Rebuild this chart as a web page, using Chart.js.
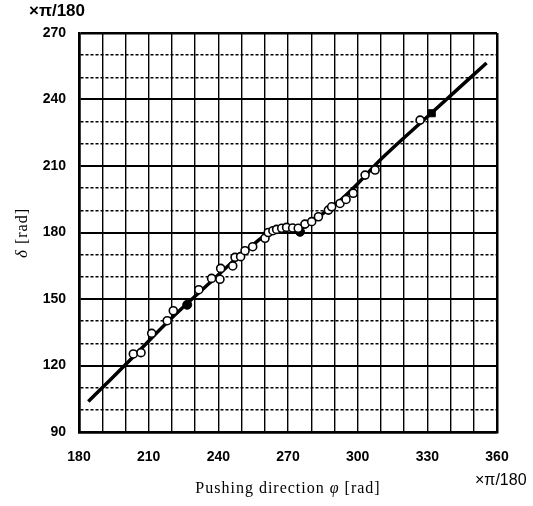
<!DOCTYPE html>
<html><head><meta charset="utf-8">
<script src="https://cdn.jsdelivr.net/npm/chart.js@4"></script>
<style>html,body{margin:0;padding:0;background:#fff;}</style>
</head><body>
<canvas id="c" width="533" height="506"></canvas>
<script>
// Axis ranges / tick labels
const xTickLabels = [180, 210, 240, 270, 300, 330, 360];
const yTickLabels = [90, 120, 150, 180, 210, 240, 270];
const unitLabel = '×π/180';

// Measured points (open circles)
const measuredX = [203.4, 206.7, 211.3, 218.0, 220.6, 231.6, 237.1, 240.7, 241.0, 246.2, 247.2, 249.6, 251.5, 254.8, 260.1, 261.5, 263.5, 265.1, 267.3, 269.4, 272.0, 274.4, 277.3, 280.2, 283.1, 287.4, 288.8, 292.4, 295.0, 298.1, 303.2, 307.5, 326.9];
const measuredY = [125.2, 125.8, 134.5, 140.2, 144.7, 154.2, 159.3, 158.9, 163.8, 164.9, 168.8, 169.1, 171.8, 173.6, 177.4, 180.0, 180.8, 181.4, 181.9, 182.3, 182.0, 181.9, 183.8, 184.9, 187.1, 190.1, 191.6, 193.1, 194.9, 197.7, 205.9, 208.2, 230.7];
// Filled markers
const filledX = [226.6, 275.2];
const filledY = [147.4, 180.3];
const squareX = [331.9];
const squareY = [233.8];
// Fitted curve
const fitX = [184.0, 193.4, 202.0, 220.0, 236.0, 248.0, 255.0, 260.0, 265.0, 270.0, 275.0, 280.0, 285.0, 292.0, 300.0, 310.0, 330.0, 355.5];
const fitY = [103.8, 113.5, 122.5, 141.5, 157.0, 168.5, 174.5, 178.5, 180.8, 181.8, 182.0, 184.5, 188.5, 194.0, 202.0, 213.0, 232.2, 256.5];

const zip = (xs, ys) => xs.map((x, i) => ({x: x, y: ys[i]}));

const textPlugin = {
  id: 'texts',
  afterDraw(chart) {
    const ctx = chart.ctx;
    ctx.save();
    ctx.fillStyle = '#000';
    ctx.textBaseline = 'middle';
    // top-left unit
    ctx.font = 'bold 17px "Liberation Sans", Arial, sans-serif';
    ctx.textAlign = 'left';
    ctx.fillText(unitLabel, 29, 11);
    // bottom-right unit
    ctx.font = '16px "Liberation Sans", Arial, sans-serif';
    ctx.fillText(unitLabel, 475, 481);
    // x title
    const serif = '"Liberation Serif", "Times New Roman", serif';
    ctx.letterSpacing = '1px';
    const parts = [['Pushing direction ', '16px ' + serif], ['φ', 'italic 16px ' + serif], [' [rad]', '16px ' + serif]];
    let w = 0;
    parts.forEach(p => { ctx.font = p[1]; w += ctx.measureText(p[0]).width; });
    let x = 288 - w / 2;
    parts.forEach(p => { ctx.font = p[1]; ctx.fillText(p[0], x, 489); x += ctx.measureText(p[0]).width; });
    // y title
    ctx.translate(23, 233);
    ctx.rotate(-Math.PI / 2);
    const yparts = [['δ', 'italic 17px ' + serif], [' [rad]', '16px ' + serif]];
    w = 0;
    yparts.forEach(p => { ctx.font = p[1]; w += ctx.measureText(p[0]).width; });
    x = -w / 2;
    yparts.forEach(p => { ctx.font = p[1]; ctx.fillText(p[0], x, 0); x += ctx.measureText(p[0]).width; });
    ctx.restore();
  }
};

const tickFont = {family: '"Liberation Sans", Arial, sans-serif', size: 14, weight: 'bold'};

new Chart(document.getElementById('c'), {
  type: 'scatter',
  data: {
    datasets: [
      {data: zip(measuredX, measuredY), pointStyle: 'circle', pointRadius: 4, pointBackgroundColor: '#fff', pointBorderColor: '#000', pointBorderWidth: 1.6, showLine: false, order: 1},
      {data: zip(filledX, filledY), pointStyle: 'circle', pointRadius: 4.5, pointBackgroundColor: '#000', pointBorderColor: '#000', pointBorderWidth: 1, showLine: false, order: 1},
      {data: zip(squareX, squareY), pointStyle: 'rect', pointRadius: 5, pointBackgroundColor: '#000', pointBorderColor: '#000', pointBorderWidth: 1, showLine: false, order: 1},
      {data: zip(fitX, fitY), showLine: true, pointRadius: 0, borderColor: '#000', borderWidth: 3.5, cubicInterpolationMode: 'monotone', fill: false, order: 2}
    ]
  },
  options: {
    responsive: false,
    animation: false,
    devicePixelRatio: 1,
    layout: {padding: {top: 33, right: 36, left: 0, bottom: 0}},
    plugins: {legend: {display: false}, tooltip: {enabled: false}},
    scales: {
      x: {
        type: 'linear', min: 180, max: 360,
        afterFit: s => { s.height = 74; },
        ticks: {stepSize: 10, autoSkip: false, maxRotation: 0, padding: 17, color: '#000', font: tickFont,
          callback: v => xTickLabels.includes(v) ? String(v) : ''},
        grid: {color: '#000', drawTicks: false, lineWidth: c => (c.tick && (c.tick.value === 180 || c.tick.value === 360)) ? 2.5 : 1.4},
        border: {display: true, color: '#000', width: 2.5}
      },
      y: {
        type: 'linear', min: 90, max: 270,
        afterFit: s => { s.width = 79; },
        ticks: {stepSize: 10, autoSkip: false, padding: 13, color: '#000', font: tickFont,
          callback: v => yTickLabels.includes(v) ? String(v) : ''},
        grid: {color: '#000', drawTicks: false, lineWidth: c => (c.tick && c.tick.value % 30 === 0) ? ((c.tick.value === 90 || c.tick.value === 270) ? 2.5 : 2) : 1.5},
        border: {display: true, color: '#000', width: 2.5, dash: c => (c.tick && c.tick.value % 30 !== 0) ? [3, 2] : []}
      }
    }
  },
  plugins: [textPlugin]
});
</script>
</body></html>
